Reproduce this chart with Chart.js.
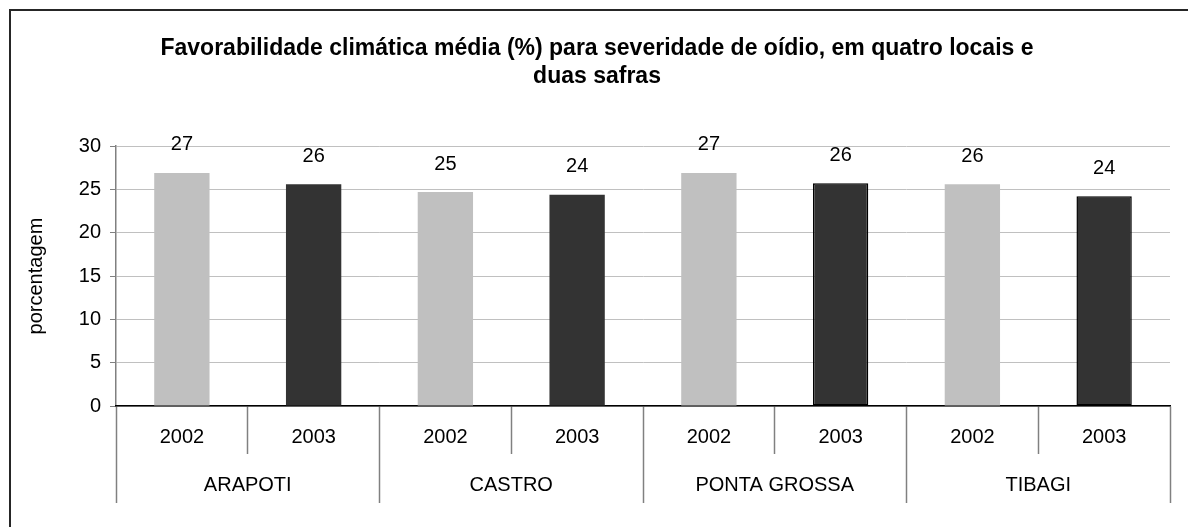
<!DOCTYPE html>
<html>
<head>
<meta charset="utf-8">
<script src="https://cdn.jsdelivr.net/npm/chart.js@4"></script>
<style>
  html, body { margin: 0; padding: 0; background: #fff; overflow: hidden; }
  #wrap { position: relative; width: 1188px; height: 527px; }
  #frame { position: absolute; left: 9px; top: 9px; width: 1200px; height: 540px; border: 2px solid #262626; box-sizing: border-box; }
  canvas { position: absolute; left: 0; top: 0; }
</style>
</head>
<body>
<div id="wrap">
  <div id="frame"></div>
  <canvas id="oidioChart" width="1188" height="527"></canvas>
</div>
<script>
const anos = ['2002', '2003', '2002', '2003', '2002', '2003', '2002', '2003'];
const locais = ['ARAPOTI', 'CASTRO', 'PONTA GROSSA', 'TIBAGI'];
const favorabilidade = [26.9, 25.6, 24.7, 24.4, 26.9, 25.7, 25.6, 24.2];
const coresBarras = ['#c0c0c0', '#333333', '#c0c0c0', '#333333', '#c0c0c0', '#333333', '#c0c0c0', '#333333'];
const bordasBarras = [0, 0, 0, 0, 0, 1.5, 0, 1.5];
const yTicks = [0, 5, 10, 15, 20, 25, 30];

const fonte = 'Liberation Sans, Arial, sans-serif';

// rótulos de valor acima das barras
const rotulosValor = {
    id: 'rotulosValor',
    afterDatasetsDraw(chart) {
        const ctx = chart.ctx;
        const meta = chart.getDatasetMeta(0);
        ctx.save();
        ctx.font = '20px ' + fonte;
        ctx.fillStyle = '#000';
        ctx.textAlign = 'center';
        ctx.textBaseline = 'bottom';
        meta.data.forEach((barra, i) => {
            ctx.fillText(Math.round(favorabilidade[i]).toString(), barra.x, barra.y - 18);
        });
        ctx.restore();
    }
};

const ctx = document.getElementById('oidioChart').getContext('2d');

new Chart(ctx, {
    type: 'bar',
    data: {
        labels: anos,
        datasets: [{
            label: 'Favorabilidade (%)',
            data: favorabilidade,
            backgroundColor: coresBarras,
            borderColor: '#000',
            borderWidth: bordasBarras,
            borderSkipped: false,
            barPercentage: 0.84,
            categoryPercentage: 0.5
        }]
    },
    options: {
        responsive: false,
        animation: false,
        layout: {
            padding: { left: 24, right: 18, top: 35, bottom: 24 }
        },
        plugins: {
            legend: { display: false },
            tooltip: { enabled: false },
            title: {
                display: true,
                text: ['Favorabilidade climática média (%) para severidade de oídio, em quatro locais e', 'duas safras'],
                color: '#000',
                font: { family: fonte, size: 23, weight: 'bold', lineHeight: 1.22 },
                padding: { top: 0, bottom: 55 }
            }
        },
        scales: {
            y: {
                min: 0,
                max: 30,
                afterBuildTicks: scale => {
                    scale.ticks = yTicks.map(v => ({ value: v }));
                },
                afterFit: scale => { scale.width = 92; },
                ticks: {
                    color: '#000',
                    font: { family: fonte, size: 20 },
                    padding: 9
                },
                grid: {
                    color: '#c0c0c0',
                    tickColor: '#808080',
                    tickLength: 6
                },
                border: { color: '#808080', width: 1.5 },
                title: {
                    display: true,
                    text: 'porcentagem',
                    color: '#000',
                    font: { family: fonte, size: 20 },
                    padding: 0
                }
            },
            x: {
                afterFit: scale => { scale.height = 48; },
                ticks: {
                    color: '#000',
                    font: { family: fonte, size: 20 },
                    padding: -29,
                    maxRotation: 0,
                    autoSkip: false
                },
                grid: {
                    offset: true,
                    drawOnChartArea: false,
                    tickLength: 48,
                    tickColor: '#808080',
                    tickWidth: 1.5
                },
                border: { color: '#000', width: 1.5 }
            },
            x2: {
                type: 'category',
                position: 'bottom',
                labels: locais,
                offset: true,
                afterFit: scale => { scale.height = 49; },
                ticks: {
                    color: '#000',
                    font: { family: fonte, size: 20 },
                    padding: -30,
                    maxRotation: 0,
                    autoSkip: false
                },
                grid: {
                    offset: true,
                    drawOnChartArea: false,
                    tickLength: 49,
                    tickColor: '#808080',
                    tickWidth: 1.5
                },
                border: { display: false }
            }
        }
    },
    plugins: [rotulosValor]
});
</script>
</body>
</html>
